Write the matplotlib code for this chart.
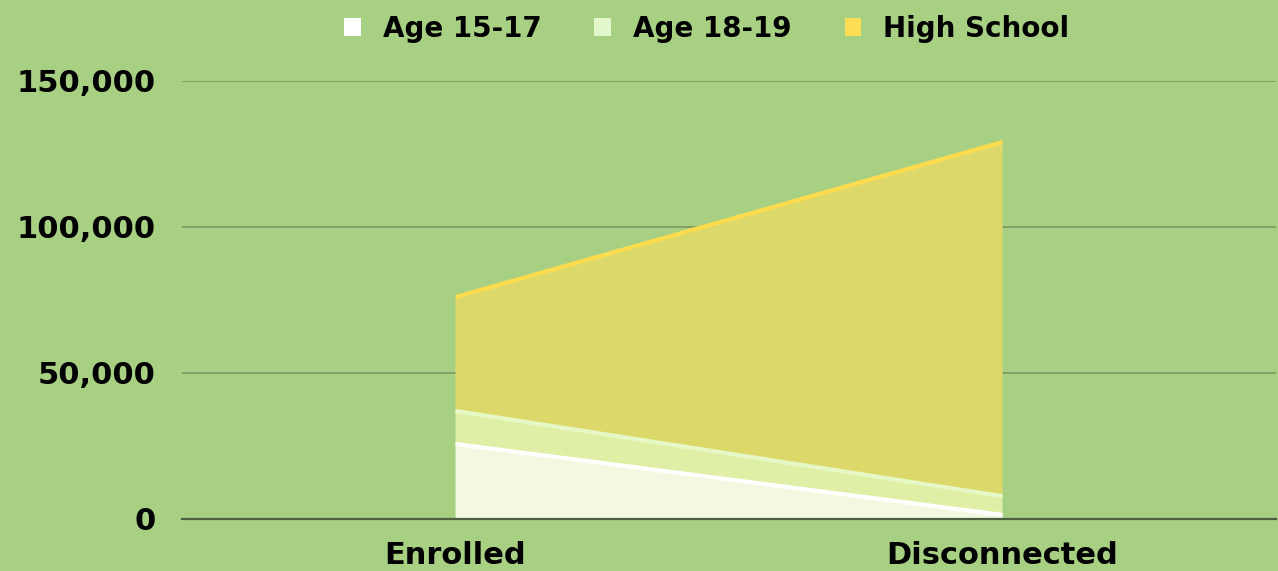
import matplotlib
matplotlib.use("Agg")
import matplotlib.pyplot as plt
import numpy as np
from matplotlib.patches import Patch

categories = ["Enrolled", "Disconnected"]
series_names = ["Age 15-17", "Age 18-19", "High School"]
age_15_17 = [25700, 1400]
age_18_19 = [11300, 6400]
high_school = [39000, 121300]
yticks = [0, 50000, 100000, 150000]

fill_colors = ["#F3F8E0", "#DFEFA6", "#DDD86A"]
line_colors = ["#FFFFFF", "#E6F8C6", "#FFDC4E"]
legend_colors = ["#FFFFFF", "#E2F8CC", "#FFDD55"]
bg = "#A8D083"

plt.rcParams['font.family'] = ['DejaVu Sans']

fig = plt.figure(figsize=(12.78, 5.71), dpi=100, facecolor=bg)
ax = fig.add_axes([182/1278, 1-519/571, (1276-182)/1278, (519-81)/571])
ax.set_facecolor(bg)

x = np.arange(len(categories))
data = [age_15_17, age_18_19, high_school]
ax.stackplot(x, *data, colors=fill_colors, linewidth=0, zorder=2)
cum = np.cumsum(np.array(data), axis=0)
for i in range(len(data)):
    ax.plot(x, cum[i], color=line_colors[i], lw=3, zorder=3, solid_capstyle='butt')

ax.set_xlim(-0.5, 1.5)
ax.set_ylim(0, 150000)
ax.set_yticks(yticks)
ax.set_yticklabels([f"{v:,}" for v in yticks], fontsize=22, fontweight='bold')
ax.set_xticks(x)
ax.set_xticklabels(categories, fontsize=22, fontweight='bold')
ax.tick_params(axis='y', length=0, pad=19)
ax.tick_params(axis='x', length=0, pad=16)
for v in yticks[1:]:
    ax.axhline(v, color="#7A9862", lw=1.2, zorder=1)
ax.axhline(0, color="#4E5E40", lw=1.6, zorder=4, clip_on=False)
for s in ax.spines.values():
    s.set_visible(False)

handles = [Patch(facecolor=c, edgecolor='none') for c in legend_colors]
leg = fig.legend(handles, series_names, loc='upper center', bbox_to_anchor=(0.553, 1.018),
                 ncol=3, frameon=False, prop={'size': 20, 'weight': 'bold'},
                 handlelength=0.6, handleheight=0.6, handletextpad=0.8, columnspacing=1.9)

fig.savefig("out.png", dpi=100, facecolor=bg)
